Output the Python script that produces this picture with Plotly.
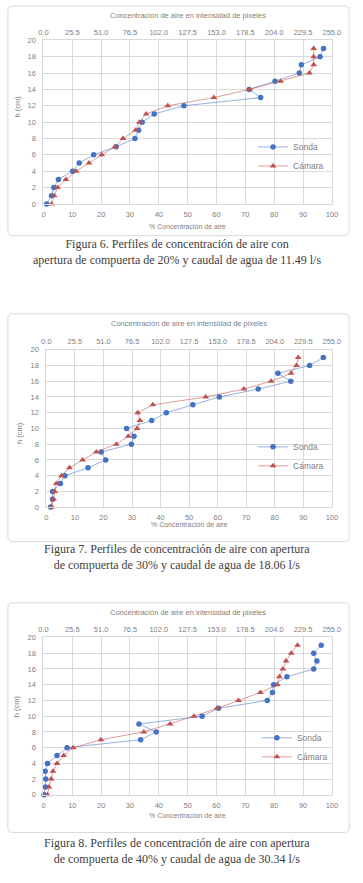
import plotly.graph_objects as go

W, H = 363, 883

h = list(range(20))

# Figura 6
sonda_6 = [1.1, 2.8, 3.6, 5.2, 10.1, 12.4, 17.4, 25.2, 31.7, 33.0,
           34.2, 38.4, 48.7, 75.3, 71.3, 80.3, 88.7, 89.4, 95.9, 97.1]
camara_6 = [2.8, 3.7, 4.9, 7.8, 11.3, 15.8, 20.2, 24.8, 27.6, 31.9,
            33.3, 35.6, 43.1, 59.1, 71.4, 82.2, 92.2, 93.7, 93.7, 93.7]
# Figura 7
sonda_7 = [1.5, 2.2, 2.2, 4.9, 6.5, 14.6, 20.8, 19.2, 29.8, 30.7,
           28.1, 36.9, 42.0, 51.3, 60.6, 74.2, 85.6, 81.1, 92.2, 97.0]
camara_7 = [1.9, 2.5, 2.9, 3.5, 5.3, 8.1, 12.7, 17.5, 24.5, 28.7,
            31.8, 32.8, 32.0, 37.3, 55.8, 69.2, 78.7, 85.7, 87.6, 88.2]
# Figura 8
sonda_8 = [0.2, 0.7, 0.8, 0.6, 1.4, 4.7, 8.2, 33.7, 39.1, 33.1,
           55.0, 60.7, 77.6, 79.4, 79.8, 84.4, 93.7, 94.8, 93.7, 96.3]
camara_8 = [1.4, 1.9, 2.7, 3.3, 4.7, 7.0, 10.3, 19.9, 34.8, 43.9,
            52.2, 60.2, 67.6, 75.2, 81.1, 81.8, 83.0, 84.1, 85.9, 88.1]

pct_ticks = list(range(0, 101, 10))
pix_ticks = [round(25.5 * i, 1) for i in range(11)]
h_ticks = list(range(0, 21, 2))

captions = [
    "Figura 6. Perfiles de concentración de aire con<br>apertura de compuerta de 20% y caudal de agua de 11.49 l/s",
    "Figura 7. Perfiles de concentración de aire con apertura<br>de compuerta de 30% y caudal de agua de 18.06 l/s",
    "Figura 8. Perfiles de concentración de aire con apertura<br>de compuerta de 40% y caudal de agua de 30.34 l/s",
]
top_title = "Concentración de aire en intensidad de pixeles"
bottom_title = "% Concentración de aire"
y_title = "h (cm)"

datasets = [(sonda_6, camara_6), (sonda_7, camara_7), (sonda_8, camara_8)]

# layout geometry in pixels (top-down)
panels = [
    dict(box=(3, 2, 358, 234), plot=(40, 36.7, 340, 202), top_title=12, bottom_title=225,
         ytitle=(13, 103), legend=(258, 154), caption=251),
    dict(box=(3, 313, 358, 543), plot=(43, 349.3, 340, 508.3), top_title=323, bottom_title=526,
         ytitle=(15, 433), legend=(258, 457), caption=559),
    dict(box=(3, 605, 358, 837), plot=(40, 640, 340, 799), top_title=615, bottom_title=820,
         ytitle=(12, 710), legend=(262, 751), caption=856),
]

def px(x):
    return x / W

def py(y):
    return 1 - y / H

BLUE = "#4472C4"
RED = "#C0504D"
GRID = "#D9D9D9"
TXT = "#808080"
tick_font = dict(family="Liberation Sans, Arial, sans-serif", size=7.5, color=TXT)

fig = go.Figure()
layout = dict(width=W, height=H, margin=dict(l=0, r=0, t=0, b=0),
              paper_bgcolor="white", plot_bgcolor="white", showlegend=True)
annotations = []
shapes = []

for i, ((s, c), p) in enumerate(zip(datasets, panels)):
    xb = f"x{2*i+1}" if i > 0 else "x"
    xt = f"x{2*i+2}"
    yy = f"y{i+1}" if i > 0 else "y"
    xb_name = "xaxis" if i == 0 else f"xaxis{2*i+1}"
    xt_name = f"xaxis{2*i+2}"
    y_name = "yaxis" if i == 0 else f"yaxis{i+1}"
    leg = "legend" if i == 0 else f"legend{i+1}"

    fig.add_trace(go.Scatter(x=s, y=h, mode="lines+markers", name="Sonda",
                             xaxis=xb, yaxis=yy, legend=leg, cliponaxis=False,
                             line=dict(color="rgba(68,114,196,0.55)", width=1),
                             marker=dict(color=BLUE, size=5.5, symbol="circle")))
    fig.add_trace(go.Scatter(x=c, y=h, mode="lines+markers", name="Cámara",
                             xaxis=xb, yaxis=yy, legend=leg, cliponaxis=False,
                             line=dict(color="rgba(192,80,77,0.55)", width=1),
                             marker=dict(color=RED, size=6, symbol="triangle-up")))
    fig.add_trace(go.Scatter(x=[], y=[], xaxis=xt, yaxis=yy, showlegend=False,
                             hoverinfo="skip"))

    x0, y0, x1, y1 = p["plot"]
    layout[xb_name] = dict(domain=[px(x0), px(x1)], anchor=yy, range=[0, 100],
                           tickvals=pct_ticks, ticktext=[str(v) for v in pct_ticks],
                           showgrid=True, gridcolor=GRID, gridwidth=1,
                           showline=True, linecolor=GRID, mirror=True, zeroline=False,
                           ticks="", tickfont=tick_font, ticklabelstandoff=3,
                           fixedrange=True)
    layout[xt_name] = dict(overlaying=xb, side="top", anchor=yy, range=[0, 255],
                           tickvals=pix_ticks, ticktext=[f"{v:.1f}" for v in pix_ticks],
                           showgrid=False, showline=False, zeroline=False, ticks="",
                           tickfont=tick_font, ticklabelstandoff=3, fixedrange=True)
    layout[y_name] = dict(domain=[py(y1), py(y0)], anchor=xb, range=[0, 20],
                          tickvals=h_ticks, showgrid=True, gridcolor=GRID, gridwidth=1,
                          showline=True, linecolor=GRID, mirror=True, zeroline=False,
                          ticks="", tickfont=tick_font, ticklabelstandoff=5,
                          fixedrange=True)
    lx, ly = p["legend"]
    layout[leg] = dict(x=px(lx), y=py(ly), xanchor="left", yanchor="middle",
                       xref="paper", yref="paper", bgcolor="rgba(0,0,0,0)",
                       font=dict(family="Liberation Sans, Arial, sans-serif", size=8.5, color=TXT),
                       itemwidth=30, tracegroupgap=0)

    annotations.append(dict(text=top_title, x=px((x0 + x1) / 2), y=py(p["top_title"]),
                            xref="paper", yref="paper", showarrow=False,
                            xanchor="center", yanchor="middle",
                            font=dict(family="Liberation Sans, Arial, sans-serif", size=7.5, color=TXT)))
    annotations.append(dict(text=bottom_title, x=px((x0 + x1) / 2), y=py(p["bottom_title"]),
                            xref="paper", yref="paper", showarrow=False,
                            xanchor="center", yanchor="middle",
                            font=dict(family="Liberation Sans, Arial, sans-serif", size=7, color=TXT)))
    tx, ty = p["ytitle"]
    annotations.append(dict(text=y_title, x=px(tx), y=py(ty), xref="paper", yref="paper",
                            showarrow=False, textangle=-90, xanchor="center", yanchor="middle",
                            font=dict(family="Liberation Sans, Arial, sans-serif", size=7.5, color=TXT)))
    annotations.append(dict(text=captions[i], x=px(179), y=py(p["caption"]),
                            xref="paper", yref="paper", showarrow=False, align="center",
                            xanchor="center", yanchor="middle",
                            font=dict(family="Liberation Serif, Times New Roman, serif", size=12,
                                      color="#404040")))

    bx0, by0, bx1, by1 = p["box"]
    r = 5
    X0, X1 = px(bx0), px(bx1)
    Y0, Y1 = py(by0), py(by1)
    rx, ry = r / W, r / H
    path = (f"M {X0+rx},{Y0} L {X1-rx},{Y0} Q {X1},{Y0} {X1},{Y0-ry} "
            f"L {X1},{Y1+ry} Q {X1},{Y1} {X1-rx},{Y1} "
            f"L {X0+rx},{Y1} Q {X0},{Y1} {X0},{Y1+ry} "
            f"L {X0},{Y0-ry} Q {X0},{Y0} {X0+rx},{Y0} Z")
    shapes.append(dict(type="path", path=path, xref="paper", yref="paper",
                       line=dict(color="#D9D9D9", width=1), layer="below"))

layout["annotations"] = annotations
layout["shapes"] = shapes
fig.update_layout(**layout)
fig.write_html("out.html", config={"displayModeBar": False},
               post_script="document.body.style.margin='0px';document.body.style.overflow='hidden';")
